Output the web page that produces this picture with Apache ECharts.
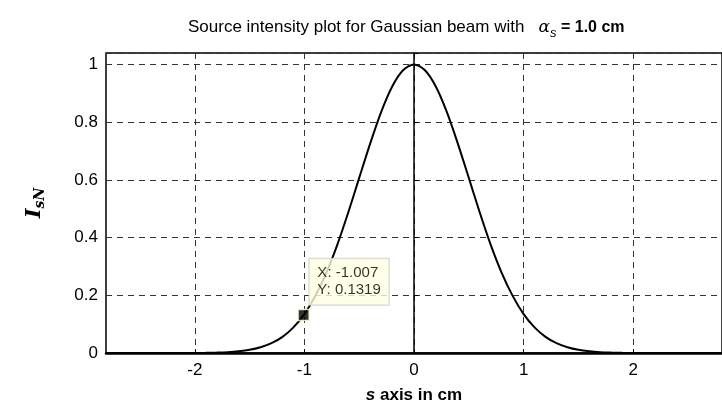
<!DOCTYPE html>
<html>
<head>
<meta charset="utf-8">
<script src="https://cdn.jsdelivr.net/npm/echarts@6/dist/echarts.min.js"></script>
<style>
  html, body { margin: 0; padding: 0; background: #fff; }
  #chart { width: 722px; height: 410px; }
</style>
</head>
<body>
<div id="chart"></div>
<script>
// values
const sValues = [-2.8, -2.6, -2.4, -2.2, -2.0, -1.9, -1.8, -1.7, -1.6, -1.5, -1.4, -1.3, -1.2, -1.1, -1.0, -0.9, -0.8, -0.7, -0.6, -0.5, -0.4, -0.3, -0.2, -0.1, 0,
  0.1, 0.2, 0.3, 0.4, 0.5, 0.6, 0.7, 0.8, 0.9, 1.0, 1.1, 1.2, 1.3, 1.4, 1.5, 1.6, 1.7, 1.8, 1.9, 2.0, 2.2, 2.4, 2.6, 2.8]
const intensity = [0, 0, 0, 0, 0, 0.0005, 0.0015, 0.003, 0.006, 0.011, 0.02, 0.034, 0.056, 0.089, 0.135, 0.198, 0.278, 0.375, 0.487, 0.607, 0.726, 0.835, 0.923, 0.98, 1,
  0.98, 0.923, 0.835, 0.726, 0.607, 0.487, 0.375, 0.278, 0.198, 0.135, 0.089, 0.056, 0.034, 0.02, 0.011, 0.006, 0.003, 0.0015, 0.0005, 0, 0, 0, 0, 0]
const xTicks = [-2, -1, 0, 1, 2]
const tipPoint = [-1.007, 0.1319]

const chart = echarts.init(document.getElementById('chart'))
const lineData = sValues.map((s, i) => [s, intensity[i]])
const gridDash = { color: '#333', type: [6, 5], width: 1 }

const option = {
    animation: false,
    title: {
        text: '{n|Source intensity plot for Gaussian beam with   }{a|α}{s|s}{b| = 1.0 cm}',
        left: 183,
        top: 10,
        textStyle: {
            rich: {
                n: { fontFamily: 'Liberation Sans', fontWeight: 'normal', fontSize: 17, color: '#000' },
                a: { fontFamily: 'DejaVu Serif', fontStyle: 'italic', fontWeight: 'normal', fontSize: 17, color: '#000' },
                s: { fontFamily: 'Liberation Sans', fontStyle: 'italic', fontWeight: 'normal', fontSize: 13, color: '#000', padding: [12, 0, 0, 0] },
                b: { fontFamily: 'Liberation Sans', fontWeight: 'bold', fontSize: 16, color: '#000' }
            }
        }
    },
    grid: {
        left: 106,
        top: 53,
        bottom: 57,
        right: -13,
        show: true,
        borderColor: '#000',
        borderWidth: 1.5
    },
    xAxis: {
        type: 'value',
        min: -2.81,
        max: 2.81,
        name: '{i|s}{b| axis in cm}',
        nameLocation: 'middle',
        nameGap: 34,
        nameTextStyle: {
            rich: {
                i: { fontFamily: 'Liberation Sans', fontStyle: 'italic', fontWeight: 'bold', fontSize: 17, color: '#000' },
                b: { fontFamily: 'Liberation Sans', fontWeight: 'bold', fontSize: 17, color: '#000' }
            }
        },
        axisLine: { onZero: false, lineStyle: { color: '#000', width: 2.5 } },
        axisTick: { inside: true, length: 4, customValues: xTicks, lineStyle: { color: '#000' } },
        axisLabel: { customValues: xTicks, fontFamily: 'Liberation Sans', fontSize: 17, color: '#000', margin: 9 },
        splitLine: { show: true, customValues: xTicks, lineStyle: gridDash }
    },
    yAxis: {
        type: 'value',
        min: 0,
        max: 1.04,
        interval: 0.2,
        name: '{i|I}{s|sN}',
        nameLocation: 'middle',
        nameGap: 59,
        nameTextStyle: {
            rich: {
                i: { fontFamily: 'DejaVu Serif', fontStyle: 'italic', fontWeight: 'bold', fontSize: 21, color: '#000' },
                s: { fontFamily: 'DejaVu Serif', fontStyle: 'italic', fontWeight: 'bold', fontSize: 14, color: '#000', padding: [11, 0, 0, 0] }
            }
        },
        axisLine: { show: true, lineStyle: { color: '#000', width: 1.5 } },
        axisTick: { inside: true, length: 4, lineStyle: { color: '#000' } },
        axisLabel: {
            fontFamily: 'Liberation Sans', fontSize: 17, color: '#000', margin: 8,
            formatter: v => v > 1.001 ? '' : String(Math.round(v * 10) / 10)
        },
        splitLine: { show: true, lineStyle: gridDash }
    },
    series: [
        {
            type: 'line',
            data: lineData,
            symbol: 'none',
            smooth: 0.3,
            lineStyle: { color: '#000', width: 2 }
        },
        {
            type: 'scatter',
            data: [tipPoint],
            symbol: 'rect',
            symbolSize: 11,
            itemStyle: { color: '#000', borderColor: '#ffffc8', borderWidth: 1.5 },
            label: {
                show: true,
                position: [12, -50],
                formatter: 'X: ' + tipPoint[0] + '\nY: ' + tipPoint[1],
                fontFamily: 'Liberation Sans',
                fontSize: 15,
                lineHeight: 17,
                color: '#000',
                backgroundColor: '#ffffe1',
                borderColor: '#c8c8c8',
                borderWidth: 1,
                padding: [6, 8, 6, 8]
            },
            z: 5
        }
    ]
}
chart.setOption(option)
</script>
</body>
</html>
